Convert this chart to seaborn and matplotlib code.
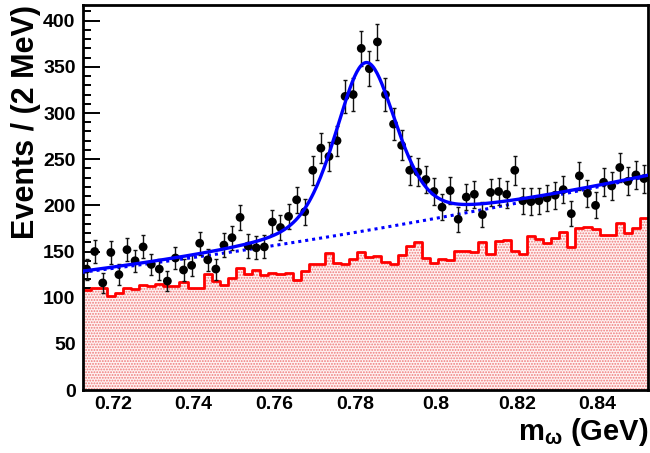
import numpy as np
import matplotlib
matplotlib.use("Agg")
import matplotlib.pyplot as plt
import seaborn as sns
from matplotlib.ticker import MultipleLocator, FuncFormatter

# binning: 70 bins of 2 MeV
x_lo, x_hi, n_bins = 0.7125, 0.8525, 70

# data counts per bin
data_counts = [131, 150, 116, 149, 125, 152, 140, 155, 136, 131,
               118, 143, 130, 135, 159, 141, 131, 157, 165, 187,
               156, 154, 155, 182, 176, 188, 206, 193, 238, 262,
               253, 270, 318, 320, 370, 348, 377, 320, 288, 265,
               238, 236, 228, 215, 198, 216, 185, 209, 212, 190,
               214, 215, 212, 238, 205, 204, 205, 208, 211, 217,
               191, 232, 213, 200, 225, 221, 241, 226, 233, 229]

# red histogram (sideband / MC background)
bkg_counts = [108, 111, 110, 102, 105, 110, 109, 114, 113, 115,
              113, 113, 117, 111, 111, 126, 118, 114, 121, 132,
              126, 130, 125, 127, 126, 127, 119, 129, 137, 137,
              148, 138, 137, 142, 149, 144, 145, 139, 136, 146,
              156, 160, 143, 138, 142, 141, 151, 151, 149, 160,
              147, 161, 162, 151, 147, 167, 164, 159, 165, 171,
              155, 175, 177, 174, 168, 168, 181, 170, 175, 186]

# fit result: pseudo-Voigt peak + quadratic background (around 0.78 GeV)
peak_mass = 0.7826
peak_fwhm = 0.0180
peak_eta = 0.4
peak_height = 182.0
bkg_c0, bkg_c1, bkg_c2 = 170.7, 735.0, 1420.0

edges = np.linspace(x_lo, x_hi, n_bins + 1)
centers = 0.5 * (edges[:-1] + edges[1:])
data_counts = np.array(data_counts, dtype=float)
bkg_counts = np.array(bkg_counts, dtype=float)

xf = np.linspace(x_lo, x_hi, 500)
u = xf - 0.78
bkg_curve = bkg_c0 + bkg_c1 * u + bkg_c2 * u ** 2
d = (xf - peak_mass) / peak_fwhm
shape = peak_eta / (1 + 4 * d ** 2) + (1 - peak_eta) * np.exp(-4 * np.log(2) * d ** 2)
total_curve = bkg_curve + peak_height * shape

sns.set_style("ticks")
plt.rcParams['font.family'] = ['Liberation Sans', 'DejaVu Sans']
plt.rcParams['font.weight'] = 'bold'
plt.rcParams['text.color'] = 'black'
plt.rcParams['axes.labelcolor'] = 'black'
plt.rcParams['xtick.color'] = 'black'
plt.rcParams['ytick.color'] = 'black'
plt.rcParams['mathtext.fontset'] = 'custom'
plt.rcParams['mathtext.rm'] = 'Liberation Sans'
plt.rcParams['mathtext.default'] = 'rm'
plt.rcParams['hatch.color'] = '#ee7a7a'
plt.rcParams['hatch.linewidth'] = 0.9

fig, ax = plt.subplots(figsize=(6.5, 4.53), dpi=100)
fig.subplots_adjust(left=0.127, right=0.997, bottom=0.139, top=0.989)

# red background histogram with dotted fill
sns.histplot(x=centers, weights=bkg_counts, bins=n_bins, binrange=(x_lo, x_hi),
             element="step", fill=True, facecolor="#fff2f2", edgecolor="#ee7a7a",
             hatch="......", linewidth=0, alpha=1, ax=ax)
sns.histplot(x=centers, weights=bkg_counts, bins=n_bins, binrange=(x_lo, x_hi),
             element="step", fill=False, color="#ff0000", linewidth=2, ax=ax)

# background component of the fit
sns.lineplot(x=xf, y=bkg_curve, color="#0000ff", linewidth=2.2,
             linestyle=(0, (1, 1.3)), ax=ax, zorder=3)

# data points
ax.errorbar(centers, data_counts, yerr=np.sqrt(data_counts), fmt="none",
            ecolor="#111111", elinewidth=1, capsize=1.6, capthick=1, zorder=4)
sns.scatterplot(x=centers, y=data_counts, color="black", s=40, edgecolor="none",
                ax=ax, zorder=5)

# total fit
sns.lineplot(x=xf, y=total_curve, color="#0000ff", linewidth=2.4, ax=ax, zorder=6)

ax.set_xlim(x_lo, x_hi)
ax.set_ylim(0, 417)
ax.xaxis.set_major_locator(MultipleLocator(0.02))
ax.xaxis.set_minor_locator(MultipleLocator(0.005))
ax.yaxis.set_major_locator(MultipleLocator(50))
ax.yaxis.set_minor_locator(MultipleLocator(10))
ax.xaxis.set_major_formatter(FuncFormatter(lambda v, p: "%g" % round(v, 3)))
ax.yaxis.set_major_formatter(FuncFormatter(lambda v, p: "%g" % v))

ax.tick_params(axis="both", which="both", direction="in", width=1.4, color="black",
               labelcolor="black", top=False, right=False)
ax.tick_params(axis="y", which="major", length=12, pad=5, labelsize=14)
ax.tick_params(axis="y", which="minor", length=6)
ax.tick_params(axis="x", which="major", length=7, pad=4, labelsize=14)
ax.tick_params(axis="x", which="minor", length=3.6)
for sp in ax.spines.values():
    sp.set_linewidth(2)
    sp.set_color("black")

ax.set_xlabel(r"m$_{\omega}$ (GeV)", fontsize=21, fontweight="bold", loc="right",
              color="black")
ax.xaxis.set_label_coords(1.0, -0.068)
ax.set_ylabel("Events / (2 MeV)", fontsize=22, fontweight="bold", loc="top",
              color="black")
ax.yaxis.set_label_coords(-0.074, 1.0)

fig.savefig("out.png", dpi=100)
